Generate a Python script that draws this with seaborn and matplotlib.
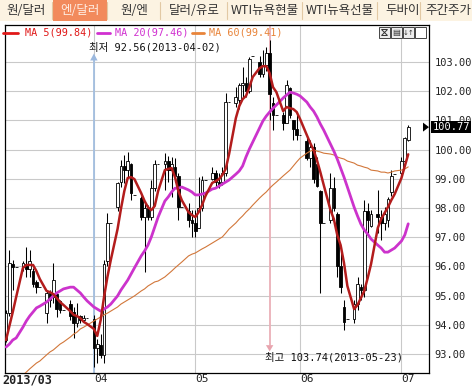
import numpy as np
import pandas as pd
import matplotlib
matplotlib.use("Agg")
import matplotlib.pyplot as plt
import seaborn as sns
from matplotlib.patches import Rectangle, Polygon
from matplotlib.lines import Line2D
import matplotlib.transforms as mtransforms

sns.set_style("white")
MONO = ["DejaVu Sans Mono", "Noto Sans CJK KR"]
plt.rcParams["font.family"] = MONO

# ---------------- data ----------------
dates = pd.bdate_range("2013-03-06", "2013-07-03", freq="C",
                       weekmask="Mon Tue Wed Thu Fri Sat")

open_ = [93.48, 94.40, 96.10, 95.98,
         95.98, 96.10, 95.90, 95.85, 95.45, 95.29,
         94.40, 95.09, 94.95, 95.05, 94.80, 94.51,
         94.70, 94.45, 94.05, 94.30, 94.15, 94.25,
         94.20, 93.20, 93.30, 92.95, 96.20, 97.50,
         98.03, 98.90, 99.45, 99.30, 99.50, 98.45,
         98.35, 97.70, 98.00, 97.70, 98.70, 99.50,
         99.50, 99.60, 99.30, 99.40, 99.10, 98.03,
         97.90, 97.60,
         97.50, 97.30, 98.00, 98.96,
         99.00, 99.20, 98.90, 98.90, 99.20, 101.63,
         101.60, 101.70, 102.20, 102.30, 102.00, 103.20,
         103.00, 102.60, 102.90, 103.30, 101.60, 101.20,
         101.20, 100.90, 102.10, 101.00, 100.70, 100.50,
         100.30, 99.70, 100.10, 99.50, 98.60, 97.49,
         97.60, 98.70, 97.80, 96.00, 94.60, 94.20,
         94.20, 94.70, 95.30, 95.20, 97.90, 97.40,
         97.80, 97.70, 97.50, 97.60, 98.55, 99.15,
         99.20, 99.60, 100.33]
high = [94.50, 96.56, 96.22, 95.98,
        96.20, 96.66, 96.56, 95.95, 95.53, 95.29,
        95.19, 95.19, 96.12, 95.09, 94.85, 94.51,
        94.85, 94.61, 94.75, 94.32, 94.35, 94.25,
        94.35, 93.50, 93.70, 96.22, 97.83, 97.50,
        98.90, 99.64, 99.82, 99.92, 99.55, 98.45,
        98.40, 98.17, 98.10, 98.96, 99.64, 99.50,
        99.88, 99.80, 99.75, 99.70, 99.20, 98.03,
        98.17, 97.93,
        97.93, 99.06, 99.10, 98.96,
        99.40, 99.30, 99.20, 99.40, 101.94, 101.63,
        102.14, 102.30, 102.83, 102.50, 103.17, 103.20,
        103.20, 103.41, 103.50, 103.74, 101.80, 101.20,
        101.30, 102.38, 102.15, 101.00, 101.25, 100.50,
        100.43, 100.33, 100.23, 99.75, 98.62, 97.49,
        99.20, 99.06, 97.85, 96.66, 94.85, 94.20,
        94.85, 95.64, 95.40, 98.27, 98.17, 97.93,
        98.62, 97.93, 98.03, 98.38, 99.30, 99.15,
        99.75, 100.43, 100.85]
low = [93.40, 94.30, 95.19, 95.98,
       95.85, 95.64, 95.64, 95.29, 95.09, 95.29,
       94.06, 94.61, 94.75, 94.27, 94.40, 94.51,
       94.16, 93.55, 93.92, 94.06, 94.10, 94.25,
       92.56, 92.70, 92.85, 92.69, 96.00, 97.50,
       97.90, 98.72, 98.86, 99.06, 98.27, 98.45,
       97.60, 95.80, 97.59, 97.60, 98.60, 99.50,
       98.62, 98.90, 98.38, 98.90, 97.59, 98.03,
       97.35, 97.01,
       97.01, 97.30, 97.90, 98.96,
       98.96, 98.70, 98.70, 98.80, 99.10, 101.63,
       101.46, 101.40, 101.80, 101.80, 101.94, 103.20,
       102.50, 102.50, 102.70, 101.00, 100.67, 101.20,
       100.67, 100.90, 101.10, 100.33, 100.33, 100.50,
       99.64, 99.40, 98.86, 98.72, 95.10, 97.49,
       97.50, 97.90, 95.64, 95.09, 93.82, 94.20,
       94.06, 94.50, 94.85, 94.95, 97.14, 97.35,
       97.14, 96.90, 97.25, 97.35, 98.40, 99.15,
       99.06, 99.50, 100.30]
close = [94.40, 96.12, 95.98, 95.98,
         96.12, 95.90, 96.20, 95.40, 95.29, 95.29,
         95.09, 94.85, 95.53, 94.55, 94.51, 94.51,
         94.30, 94.05, 94.30, 94.15, 94.25, 94.25,
         93.20, 93.35, 92.95, 96.10, 97.50, 97.50,
         98.86, 99.45, 99.30, 99.60, 98.50, 98.45,
         97.70, 98.00, 97.70, 98.70, 99.50, 99.50,
         99.60, 99.30, 99.50, 99.10, 98.03, 98.03,
         97.60, 97.50,
         97.20, 98.00, 98.96, 98.96,
         99.20, 98.90, 98.80, 99.20, 101.63, 101.63,
         101.80, 102.20, 102.30, 102.00, 103.10, 103.20,
         102.60, 102.90, 103.30, 101.90, 101.20, 101.20,
         100.90, 102.20, 101.20, 100.70, 100.50, 100.50,
         99.70, 100.10, 99.00, 98.75, 97.49, 97.49,
         98.70, 98.00, 96.00, 95.30, 94.10, 94.20,
         94.70, 95.40, 95.20, 97.90, 97.60, 97.80,
         97.70, 97.50, 97.80, 98.30, 99.10, 99.15,
         99.60, 100.40, 100.77]

ma5 = [93.48, 93.96, 94.44, 94.95,
       95.95, 96.05, 96.05, 96.05, 95.84, 95.57,
       95.16, 95.12, 95.05, 94.92, 94.78, 94.68,
       94.47, 94.34, 94.30, 94.23, 94.10, 94.03,
       93.86, 93.62, 94.16, 94.95, 95.64, 96.22,
       97.28, 97.97, 98.58, 99.03, 99.06, 98.99,
       98.51, 98.24, 98.03, 97.93, 98.07, 98.58,
       99.30, 99.34, 99.37, 99.06, 98.58, 98.27,
       97.86, 97.76,
       97.69, 97.86, 98.10, 98.41,
       98.86, 98.92, 98.99, 99.13, 99.34, 99.85,
       101.08, 101.49, 101.73, 101.84, 102.14, 102.49,
       102.79, 102.86, 102.86, 102.62, 102.14, 101.97,
       101.32, 101.46, 101.42, 101.39, 101.29, 101.05,
       100.50, 100.23, 99.99, 99.64, 99.23, 98.79,
       97.93, 97.62, 97.08, 96.73, 96.12, 95.33,
       94.54, 94.68, 94.92, 95.16, 95.60, 96.08,
       97.32, 97.62, 97.83, 98.03, 98.27, 98.48,
       99.03, 99.44, 99.84]
ma20 = [93.24, 93.34, 93.48, 93.55,
        93.92, 94.13, 94.30, 94.44, 94.58, 94.64,
        94.78, 94.88, 94.99, 95.09, 95.16, 95.23,
        95.29, 95.29, 95.19, 95.09, 94.95, 94.82,
        94.61, 94.54, 94.47, 94.54, 94.61, 94.71,
        94.99, 95.19, 95.36, 95.53, 95.74, 95.95,
        96.36, 96.53, 96.73, 97.01, 97.35, 97.69,
        98.24, 98.38, 98.55, 98.68, 98.68, 98.72,
        98.62, 98.55,
        98.45, 98.45, 98.48, 98.51,
        98.65, 98.68, 98.75, 98.82, 98.89, 98.96,
        99.16, 99.27, 99.44, 99.75, 100.02, 100.26,
        100.74, 100.98, 101.15, 101.29, 101.42, 101.53,
        101.77, 101.87, 101.97, 101.94, 101.90, 101.84,
        101.63, 101.46, 101.32, 101.12, 100.88, 100.67,
        100.19, 99.95, 99.68, 99.37, 99.06, 98.72,
        98.03, 97.73, 97.45, 97.25, 97.11, 96.94,
        96.73, 96.63, 96.49, 96.49, 96.56, 96.63,
        96.87, 97.08, 97.46]
ma60 = [91.80, 91.90, 92.01, 92.11,
        92.28, 92.38, 92.49, 92.59, 92.69, 92.76,
        92.97, 93.07, 93.14, 93.24, 93.34, 93.41,
        93.58, 93.68, 93.75, 93.86, 93.92, 93.99,
        94.13, 94.20, 94.27, 94.34, 94.40, 94.47,
        94.61, 94.71, 94.78, 94.85, 94.92, 94.99,
        95.16, 95.23, 95.33, 95.40, 95.47, 95.50,
        95.64, 95.74, 95.84, 95.95, 96.05, 96.15,
        96.36, 96.42,
        96.46, 96.53, 96.60, 96.66,
        96.80, 96.87, 96.94, 97.01, 97.14, 97.28,
        97.49, 97.62, 97.73, 97.86, 97.97, 98.10,
        98.34, 98.45, 98.55, 98.68, 98.79, 98.89,
        99.10, 99.20, 99.30, 99.44, 99.58, 99.71,
        99.88, 99.95, 99.99, 99.95, 99.92, 99.88,
        99.85, 99.82, 99.75, 99.71, 99.68, 99.61,
        99.54, 99.47, 99.44, 99.40, 99.37, 99.30,
        99.27, 99.23, 99.23, 99.20, 99.23, 99.27,
        99.30, 99.34, 99.41]

tabs = ["원/달러", "엔/달러", "원/엔", "달러/유로", "WTI뉴욕현물", "WTI뉴욕선물", "두바이", "주간주가"]
selected_tab = "엔/달러"
month_starts = ["2013-04-01", "2013-05-01", "2013-06-01", "2013-07-01"]
month_labels = ["04", "05", "06", "07"]
first_label = "2013/03"
y_ticks = [93, 94, 95, 96, 97, 98, 99, 100, 101, 102, 103]

# ---------------- figure ----------------
W, H = 472, 387
fig = plt.figure(figsize=(W / 100, H / 100), dpi=100)
fig.patch.set_facecolor("white")

def fx(x):
    return x / W

def fy(y):
    return 1 - y / H

# tab bar
fig.patches.append(Rectangle((0, fy(21)), 1, 21 / H, transform=fig.transFigure,
                             facecolor="#FCF3E2", edgecolor="none", zorder=0))
tab_centers = [26, 80, 134, 194, 265, 340, 403, 448]
tab_seps = [52, 107, 160, 227, 302, 377, 420]
for s in tab_seps:
    fig.lines.append(Line2D([fx(s), fx(s)], [fy(2), fy(19)], transform=fig.transFigure,
                            color="#E2C9A4", lw=0.8))
for name, cx in zip(tabs, tab_centers):
    col = "#333333"
    if name == selected_tab:
        fig.patches.append(Rectangle((fx(53), fy(21)), fx(107) - fx(53), 21 / H,
                                     transform=fig.transFigure, facecolor="#F28A5C",
                                     edgecolor="none", zorder=1))
        col = "#FFEDE3"
    fig.text(fx(cx), fy(10.5), name, ha="center", va="center", fontsize=9,
             color=col, family=["Noto Sans CJK KR", "DejaVu Sans"], zorder=2)

# main axes
ax = fig.add_axes([fx(5), fy(373), fx(429) - fx(5), (373 - 25) / H])
ax.set_facecolor("white")

d = np.asarray((dates - dates[0]).days, dtype=float)
o = np.asarray(open_)
hi = np.asarray(high)
lo = np.asarray(low)
c = np.asarray(close)

ax.set_xlim(-0.3, 125.15)
ax.set_ylim(92.35, 104.27)

# grid
ax.set_yticks(y_ticks)
ax.set_yticklabels([f"{v:.2f}" for v in y_ticks])
mpos = [(pd.Timestamp(m) - dates[0]).days for m in month_starts]
ax.set_xticks(mpos)
ax.set_xticklabels(month_labels)
for lbl in ax.get_xticklabels():
    lbl.set_ha("left")
ax.grid(True, color="#C9C9C9", lw=0.8, zorder=0)
ax.set_axisbelow(True)
ax.yaxis.tick_right()
ax.tick_params(axis="y", length=0, pad=4, labelsize=7.5, labelcolor="#222222")
ax.tick_params(axis="x", length=0, pad=1, labelsize=8, labelcolor="#222222")
for sp in ax.spines.values():
    sp.set_color("black")
    sp.set_linewidth(0.9)

# marker lines (low / high)
i_low = int(np.argmin(lo))
i_high = int(np.argmax(hi))
trans = mtransforms.blended_transform_factory(ax.transData, ax.transAxes)
dl, dh = d[i_low], d[i_high]
ax.plot([dl, dl], [0, 0.898], transform=trans, color="#A3BEE0", lw=1.3, zorder=1)
ax.add_patch(Polygon([[dl - 1.1, 0.898], [dl + 1.1, 0.898], [dl, 0.918]], closed=True,
                     transform=trans, facecolor="#9BB8DE", edgecolor="none", zorder=1))
ax.plot([dh, dh], [1.0, 0.08], transform=trans, color="#EBB0B8", lw=1.3, zorder=1)
ax.add_patch(Polygon([[dh - 1.1, 0.08], [dh + 1.1, 0.08], [dh, 0.062]], closed=True,
                     transform=trans, facecolor="#E8A4AE", edgecolor="none", zorder=1))

# candles
ax.vlines(d, lo, hi, color="black", lw=0.75, zorder=3)
up = c >= o
bottom = np.minimum(o, c)
height = np.abs(c - o)
ax.bar(d[up], height[up], bottom=bottom[up], width=0.8, facecolor="white",
       edgecolor="black", lw=0.6, zorder=4)
ax.bar(d[~up], height[~up], bottom=bottom[~up], width=0.8, facecolor="black",
       edgecolor="black", lw=0.6, zorder=4)

# moving averages
ma_df = pd.DataFrame({"d": d, "ma5": ma5, "ma20": ma20, "ma60": ma60})
sns.lineplot(data=ma_df, x="d", y="ma60", ax=ax, color="#D2773A", lw=0.8, zorder=5)
sns.lineplot(data=ma_df, x="d", y="ma20", ax=ax, color="#CC33CC", lw=2.0, zorder=6)
sns.lineplot(data=ma_df, x="d", y="ma5", ax=ax, color="#B31C1C", lw=1.8, zorder=7)
ax.set_xlabel("")
ax.set_ylabel("")

# annotation texts
low_txt = f"최저 {lo[i_low]:.2f}({dates[i_low + 1].strftime('%Y-%m-%d')})"
high_txt = f"최고 {hi[i_high]:.2f}({dates[i_high].strftime('%Y-%m-%d')})"
ax.text(dl - 1.3, 0.937, low_txt, transform=trans, ha="left", va="center",
        fontsize=7.5, color="#111111", family=MONO, zorder=8)
ax.text(dh - 1.5, 0.046, high_txt, transform=trans, ha="left", va="center",
        fontsize=7.5, color="#111111", family=MONO, zorder=8)

# legend
leg = [(f"MA 5({ma5[-1]:.2f})", "#E01818", 3, 18, 25),
       (f"MA 20({ma20[-1]:.2f})", "#D030D0", 97, 110, 115),
       (f"MA 60({ma60[-1]:.2f})", "#E8843A", 192, 204, 209)]
for txt, col, x0, x1, xt in leg:
    fig.lines.append(Line2D([fx(x0), fx(x1)], [fy(32.5), fy(32.5)],
                            transform=fig.transFigure, color=col, lw=2.0))
    fig.text(fx(xt), fy(32.5), txt, ha="left", va="center", fontsize=7.3,
             color=col, family=MONO)

# toolbar icons
for i, x0 in enumerate([379, 391, 403, 415]):
    fig.patches.append(Rectangle((fx(x0), fy(38)), 11 / W, 11 / H, transform=fig.transFigure,
                                 facecolor="#EDEDED" if i < 3 else "white",
                                 edgecolor="#444444", lw=0.7))
# hourglass-like icon drawn as a shape
fig.patches.append(Polygon([[fx(381.5), fy(29.5)], [fx(387.5), fy(29.5)], [fx(384.5), fy(32.5)],
                            [fx(387.5), fy(35.5)], [fx(381.5), fy(35.5)], [fx(384.5), fy(32.5)]],
                           closed=True, transform=fig.transFigure, facecolor="none",
                           edgecolor="#333333", lw=0.7))
fig.text(fx(396.5), fy(32.5), "▤", ha="center", va="center", fontsize=6, color="#333",
         family=["DejaVu Sans"])
fig.text(fx(408.5), fy(32.5), "↓↑", ha="center", va="center", fontsize=5, color="#333",
         family=["DejaVu Sans"])

# x label for first month
fig.text(fx(2), fy(380), first_label, ha="left", va="center", fontsize=8.5,
         fontweight="bold", color="#222222", family=MONO)

# current price marker
last = c[-1]
ypx = 354 - (last - 93) * 29.2
fig.patches.append(Polygon([[fx(423), fy(ypx - 4.5)], [fx(423), fy(ypx + 4.5)],
                            [fx(429), fy(ypx)]], closed=True, transform=fig.transFigure,
                           facecolor="black", edgecolor="none"))
fig.patches.append(Rectangle((fx(431), fy(ypx + 6)), 40 / W, 12 / H, transform=fig.transFigure,
                             facecolor="black", edgecolor="none", zorder=10))
fig.text(fx(451), fy(ypx), f"{last:.2f}", ha="center", va="center", fontsize=7.5,
         color="white", family=MONO, zorder=11)

fig.savefig("out.png", dpi=100, facecolor="white")
